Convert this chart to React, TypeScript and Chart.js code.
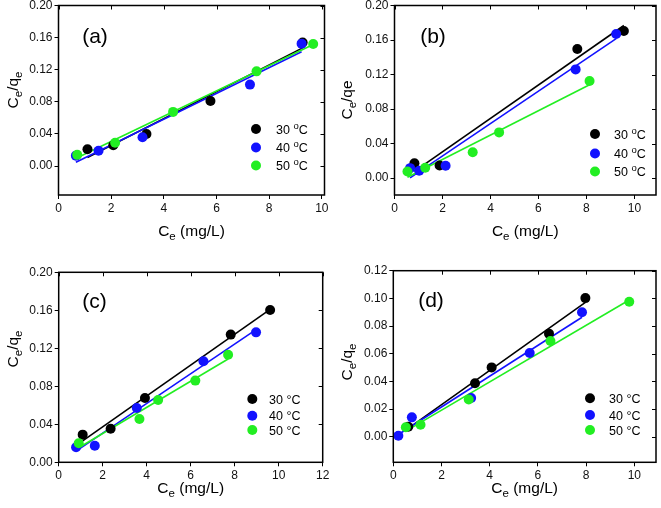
import React, { useEffect, useRef } from 'react';
import { Chart, registerables } from 'chart.js';
Chart.register(...registerables);

// ---------- data ----------
const a30x = [1.10, 2.08, 3.34, 5.77, 9.27];
const a30y = [0.021, 0.026, 0.040, 0.081, 0.154];
const a40x = [0.66, 1.52, 3.19, 7.27, 9.23];
const a40y = [0.013, 0.019, 0.036, 0.1015, 0.1525];
const a50x = [0.71, 2.15, 4.35, 7.52, 9.67];
const a50y = [0.014, 0.029, 0.0675, 0.118, 0.152];

const b30x = [0.83, 1.88, 7.62, 9.56];
const b30y = [0.0173, 0.0147, 0.1496, 0.1704];
const b40x = [0.65, 1.03, 2.13, 7.55, 9.24];
const b40y = [0.0116, 0.0085, 0.0143, 0.126, 0.167];
const b50x = [0.54, 1.28, 3.26, 4.36, 8.13];
const b50y = [0.0077, 0.012, 0.030, 0.053, 0.1126];

const c30x = [1.09, 2.36, 3.92, 7.82, 9.61];
const c30y = [0.0291, 0.0354, 0.0677, 0.1344, 0.1604];
const c40x = [0.79, 1.64, 3.55, 6.58, 8.97];
const c40y = [0.0158, 0.0175, 0.0572, 0.1063, 0.1368];
const c50x = [0.91, 3.67, 4.52, 6.21, 7.70];
const c50y = [0.020, 0.0456, 0.0656, 0.086, 0.1133];

const d30x = [0.62, 3.39, 4.08, 6.46, 7.97];
const d30y = [0.0072, 0.0387, 0.0501, 0.0745, 0.1002];
const d40x = [0.21, 0.77, 3.23, 5.66, 7.83];
const d40y = [0.0007, 0.014, 0.028, 0.0605, 0.090];
const d50x = [0.52, 1.13, 3.13, 6.52, 9.79];
const d50y = [0.0068, 0.0087, 0.0269, 0.0692, 0.0975];

const seriesNames = ['30', '40', '50'];
const yTicksMain = [0, 0.04, 0.08, 0.12, 0.16, 0.20];
const yTicksD = [0, 0.02, 0.04, 0.06, 0.08, 0.10, 0.12];
const xTicks10 = [0, 2, 4, 6, 8, 10];
const xTicks12 = [0, 2, 4, 6, 8, 10, 12];
const panelLabels = ['(a)', '(b)', '(c)', '(d)'];

// ---------- styles ----------
const COLORS = ['#000000', '#1212ff', '#22ee22'];
const FONT = "Arial, 'Liberation Sans', Helvetica, sans-serif";

function linFit(xs: number[], ys: number[]) {
  const n = xs.length;
  const mx = xs.reduce((s, v) => s + v, 0) / n;
  const my = ys.reduce((s, v) => s + v, 0) / n;
  let sxy = 0, sxx = 0;
  for (let i = 0; i < n; i++) {
    sxy += (xs[i] - mx) * (ys[i] - my);
    sxx += (xs[i] - mx) * (xs[i] - mx);
  }
  const m = sxy / sxx;
  const b = my - m * mx;
  const x0 = Math.min(...xs), x1 = Math.max(...xs);
  return [{ x: x0, y: m * x0 + b }, { x: x1, y: m * x1 + b }];
}

type Part = { t: string; sub?: boolean; sup?: boolean };

function drawParts(ctx: CanvasRenderingContext2D, parts: Part[], size: number, subSize: number) {
  // draws centered at origin along +x, baseline at y = 0 (vertically centred approx)
  const widths = parts.map((p) => {
    ctx.font = `${p.sub || p.sup ? subSize : size}px ${FONT}`;
    return ctx.measureText(p.t).width;
  });
  const total = widths.reduce((s, v) => s + v, 0);
  let x = -total / 2;
  ctx.textBaseline = 'alphabetic';
  ctx.textAlign = 'left';
  parts.forEach((p, i) => {
    ctx.font = `${p.sub || p.sup ? subSize : size}px ${FONT}`;
    const dy = p.sub ? size * 0.3 : p.sup ? -size * 0.42 : 0;
    ctx.fillText(p.t, x, size * 0.36 + dy);
    x += widths[i];
  });
}

type PanelCfg = {
  left: number; top: number; w: number; h: number;
  area: { left: number; right: number; top: number; bottom: number };
  xmin: number; xmax: number; ymin: number; ymax: number;
  xt: number[]; yt: number[];
  xs: number[][]; ys: number[][];
  label: string; labelPos: [number, number];
  legX: number; legTextX: number; legY: number[];
  supDeg: boolean;
  xTitleY: number; yTitle: [number, number]; yTitleParts: Part[];
};

const yTitleStd: Part[] = [{ t: 'C' }, { t: 'e', sub: true }, { t: '/q' }, { t: 'e', sub: true }];
const yTitleB: Part[] = [{ t: 'C' }, { t: 'e', sub: true }, { t: '/qe' }];

const panels: PanelCfg[] = [
  {
    left: 0, top: 0, w: 330, h: 254,
    area: { left: 58.5, right: 324.5, top: 5.5, bottom: 195 },
    xmin: 0, xmax: 10.1, ymin: -0.036, ymax: 0.20, xt: xTicks10, yt: yTicksMain,
    xs: [a30x, a40x, a50x], ys: [a30y, a40y, a50y],
    label: panelLabels[0], labelPos: [95, 37],
    legX: 256, legTextX: 276, legY: [129, 147.5, 165.5], supDeg: true,
    xTitleY: 230, yTitle: [12, 90], yTitleParts: yTitleStd,
  },
  {
    left: 330, top: 0, w: 331, h: 254,
    area: { left: 64.5, right: 327, top: 5.5, bottom: 195 },
    xmin: 0, xmax: 10.9, ymin: -0.0195, ymax: 0.20, xt: xTicks10, yt: yTicksMain,
    xs: [b30x, b40x, b50x], ys: [b30y, b40y, b50y],
    label: panelLabels[1], labelPos: [103, 37],
    legX: 265, legTextX: 284, legY: [134, 153.5, 171.5], supDeg: true,
    xTitleY: 230, yTitle: [16, 100], yTitleParts: yTitleB,
  },
  {
    left: 0, top: 254, w: 330, h: 254,
    area: { left: 58.7, right: 322.7, top: 18.3, bottom: 208.3 },
    xmin: 0, xmax: 12, ymin: 0, ymax: 0.20, xt: xTicks12, yt: yTicksMain,
    xs: [c30x, c40x, c50x], ys: [c30y, c40y, c50y],
    label: panelLabels[2], labelPos: [94.5, 48],
    legX: 252.3, legTextX: 269, legY: [145, 161.7, 176], supDeg: false,
    xTitleY: 233, yTitle: [12, 95], yTitleParts: yTitleStd,
  },
  {
    left: 330, top: 254, w: 331, h: 254,
    area: { left: 63.3, right: 327, top: 16.7, bottom: 208.3 },
    xmin: 0, xmax: 10.9, ymin: -0.0185, ymax: 0.12, xt: xTicks10, yt: yTicksD,
    xs: [d30x, d40x, d50x], ys: [d30y, d40y, d50y],
    label: panelLabels[3], labelPos: [101, 47],
    legX: 260, legTextX: 279, legY: [144.3, 161, 176], supDeg: false,
    xTitleY: 233, yTitle: [16, 108], yTitleParts: yTitleStd,
  },
];

function Panel({ cfg }: { cfg: PanelCfg }) {
  const ref = useRef<HTMLCanvasElement>(null);
  useEffect(() => {
    const canvas = ref.current!;
    const pointSets = cfg.xs.map((xs, i) => ({
      type: 'scatter' as const,
      data: xs.map((x, j) => ({ x, y: cfg.ys[i][j] })),
      backgroundColor: COLORS[i],
      borderColor: COLORS[i],
      pointRadius: 5,
      pointHoverRadius: 5,
      borderWidth: 0,
      order: 3 - i,
      clip: false as const,
    }));
    const lineSets = cfg.xs.map((xs, i) => ({
      type: 'scatter' as const,
      data: linFit(xs, cfg.ys[i]),
      showLine: true,
      borderColor: COLORS[i],
      backgroundColor: COLORS[i],
      borderWidth: 1.6,
      pointRadius: 0,
      pointHoverRadius: 0,
      order: 13 - i,
      clip: false as const,
    }));

    const overlay = {
      id: 'overlay',
      afterDraw(chart: any) {
        const ctx: CanvasRenderingContext2D = chart.ctx;
        const { left, right, top, bottom } = chart.chartArea;
        const xs = chart.scales.x, ys = chart.scales.y;
        ctx.save();
        ctx.strokeStyle = '#000';
        ctx.lineWidth = 1.5;
        ctx.strokeRect(left, top, right - left, bottom - top);
        ctx.lineWidth = 1;
        ctx.beginPath();
        cfg.xt.forEach((v) => {
          const px = Math.round(xs.getPixelForValue(v)) + 0.5;
          ctx.moveTo(px, top);
          ctx.lineTo(px, top + 4);
        });
        cfg.yt.forEach((v) => {
          const py = Math.round(ys.getPixelForValue(v)) + 0.5;
          ctx.moveTo(right, py);
          ctx.lineTo(right - 4, py);
        });
        ctx.stroke();

        ctx.fillStyle = '#000';
        // panel label
        ctx.font = `21px ${FONT}`;
        ctx.textAlign = 'center';
        ctx.textBaseline = 'middle';
        ctx.fillText(cfg.label, cfg.labelPos[0], cfg.labelPos[1]);

        // legend
        cfg.legY.forEach((y, i) => {
          ctx.fillStyle = COLORS[i];
          ctx.beginPath();
          ctx.arc(cfg.legX, y, 5, 0, Math.PI * 2);
          ctx.fill();
          ctx.fillStyle = '#000';
          ctx.textAlign = 'left';
          ctx.textBaseline = 'alphabetic';
          const base = y + 4.5;
          if (cfg.supDeg) {
            ctx.font = `12.5px ${FONT}`;
            const t1 = seriesNames[i] + ' ';
            ctx.fillText(t1, cfg.legTextX, base);
            let x = cfg.legTextX + ctx.measureText(t1).width;
            ctx.font = `9.5px ${FONT}`;
            ctx.fillText('o', x, base - 5);
            x += ctx.measureText('o').width;
            ctx.font = `12.5px ${FONT}`;
            ctx.fillText('C', x, base);
          } else {
            ctx.font = `12.5px ${FONT}`;
            ctx.fillText(seriesNames[i] + ' \u00B0C', cfg.legTextX, base);
          }
        });

        // x title
        ctx.fillStyle = '#000';
        ctx.save();
        ctx.translate((left + right) / 2, cfg.xTitleY);
        drawParts(ctx, [{ t: 'C' }, { t: 'e', sub: true }, { t: ' (mg/L)' }], 15.5, 11.5);
        ctx.restore();

        // y title
        ctx.save();
        ctx.translate(cfg.yTitle[0], cfg.yTitle[1]);
        ctx.rotate(-Math.PI / 2);
        drawParts(ctx, cfg.yTitleParts, 15.5, 11.5);
        ctx.restore();

        ctx.restore();
      },
    };

    const tickFont = { family: FONT, size: 12 };
    const chart = new Chart(canvas, {
      type: 'scatter',
      data: { datasets: [...pointSets, ...lineSets] as any },
      options: {
        animation: false,
        responsive: false,
        devicePixelRatio: 1,
        events: [],
        layout: {
          padding: { top: cfg.area.top, right: cfg.w - cfg.area.right, left: 0, bottom: 0 },
        },
        plugins: { legend: { display: false }, tooltip: { enabled: false } },
        scales: {
          x: {
            type: 'linear',
            min: cfg.xmin,
            max: cfg.xmax,
            afterBuildTicks: (s: any) => { s.ticks = cfg.xt.map((v) => ({ value: v })); },
            afterFit: (s: any) => {
              s.height = cfg.h - cfg.area.bottom;
              s.paddingLeft = 0; s.paddingRight = 0;
            },
            grid: { drawOnChartArea: false, drawTicks: true, tickLength: 4, color: '#000', lineWidth: 1 },
            border: { display: false },
            ticks: {
              padding: 2, font: tickFont, color: '#111', maxRotation: 0, autoSkip: false,
              callback: (v: any) => String(v),
            },
          },
          y: {
            type: 'linear',
            min: cfg.ymin,
            max: cfg.ymax,
            afterBuildTicks: (s: any) => { s.ticks = cfg.yt.map((v) => ({ value: v })); },
            afterFit: (s: any) => {
              s.width = cfg.area.left;
              s.paddingTop = 0; s.paddingBottom = 0;
            },
            grid: { drawOnChartArea: false, drawTicks: true, tickLength: 4, color: '#000', lineWidth: 1 },
            border: { display: false },
            ticks: {
              padding: 2, font: tickFont, color: '#111', autoSkip: false,
              callback: (v: any) => Number(v).toFixed(2),
            },
          },
        },
      },
      plugins: [overlay],
    } as any);
    return () => chart.destroy();
  }, [cfg]);
  return (
    <canvas
      ref={ref}
      width={cfg.w}
      height={cfg.h}
      style={{ position: 'absolute', left: cfg.left, top: cfg.top, width: cfg.w, height: cfg.h }}
    />
  );
}

export default function App() {
  return (
    <div style={{ position: 'absolute', left: 0, top: 0, width: 661, height: 508, background: '#fff', overflow: 'hidden' }}>
      {panels.map((p, i) => (
        <Panel key={i} cfg={p} />
      ))}
    </div>
  );
}
